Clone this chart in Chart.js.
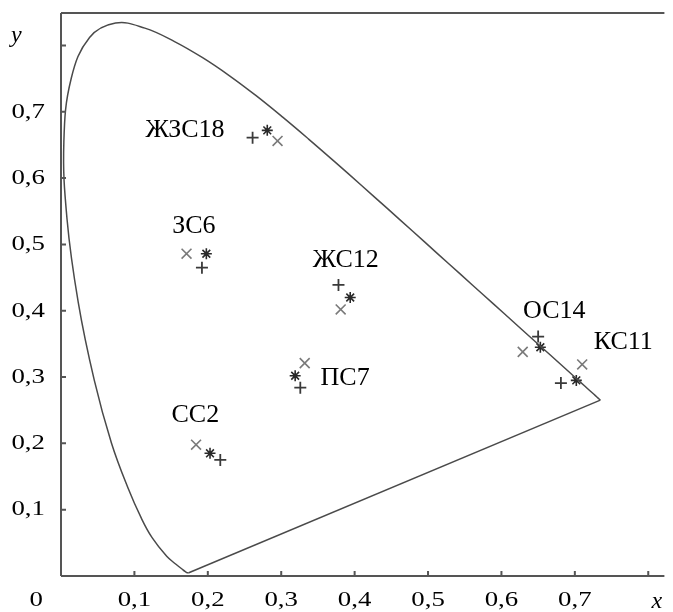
<!DOCTYPE html>
<html lang="ru">
<head>
<meta charset="UTF-8">
<title>Координаты цветности стёкол</title>
<script src="https://cdn.jsdelivr.net/npm/chart.js@4"></script>
<style>
    body { margin: 0; background: #fff; }
    .wrap { width: 673px; height: 612px; position: relative; }
</style>
</head>
<body>
<div class="wrap"><canvas id="cie"></canvas></div>
<script>
// спектральный локус, 380..700 нм
const locusX = [0.1741, 0.1738, 0.1733, 0.1726, 0.1714, 0.1689, 0.1644, 0.1566, 0.1440, 0.1241,
                0.1096, 0.0913, 0.0687, 0.0454, 0.0235, 0.0082, 0.0039, 0.0139, 0.0389, 0.0743,
                0.1142, 0.1547, 0.1929, 0.2296, 0.2658, 0.3016, 0.3373, 0.3731, 0.4087, 0.4441,
                0.4788, 0.5125, 0.5448, 0.5752, 0.6029, 0.6270, 0.6482, 0.6658, 0.6915, 0.7079,
                0.7190, 0.7260, 0.7300, 0.7334, 0.7347];
const locusY = [0.0050, 0.0049, 0.0048, 0.0048, 0.0051, 0.0069, 0.0109, 0.0177, 0.0297, 0.0578,
                0.0868, 0.1327, 0.2007, 0.2950, 0.4127, 0.5384, 0.6548, 0.7502, 0.8120, 0.8338,
                0.8262, 0.8059, 0.7816, 0.7543, 0.7243, 0.6923, 0.6589, 0.6245, 0.5896, 0.5547,
                0.5202, 0.4866, 0.4544, 0.4242, 0.3965, 0.3725, 0.3514, 0.3340, 0.3083, 0.2920,
                0.2809, 0.2740, 0.2700, 0.2666, 0.2653];

const samples = ['ЖЗС18', 'ЗС6', 'ЖС12', 'ПС7', 'СС2', 'ОС14', 'КС11'];
const plusX  = [0.261, 0.192, 0.378, 0.326, 0.217, 0.650, 0.681];
const plusY  = [0.661, 0.465, 0.439, 0.284, 0.175, 0.361, 0.291];
const crossX = [0.295, 0.171, 0.381, 0.332, 0.184, 0.629, 0.710];
const crossY = [0.656, 0.486, 0.402, 0.321, 0.198, 0.338, 0.319];
const starX  = [0.281, 0.198, 0.394, 0.319, 0.203, 0.653, 0.702];
const starY  = [0.672, 0.486, 0.420, 0.302, 0.185, 0.345, 0.295];
const labelX = [0.169, 0.181, 0.388, 0.387, 0.183, 0.672, 0.766];
const labelY = [0.673, 0.527, 0.476, 0.299, 0.243, 0.399, 0.352];

const xTicks = [0, 0.1, 0.2, 0.3, 0.4, 0.5, 0.6, 0.7, 0.8];
const xTickLabels = ['', '0,1', '0,2', '0,3', '0,4', '0,5', '0,6', '0,7', ''];
const yTicks = [0.1, 0.2, 0.3, 0.4, 0.5, 0.6, 0.7, 0.8];
const yTickLabels = ['0,1', '0,2', '0,3', '0,4', '0,5', '0,6', '0,7', ''];

const pts = (xs, ys) => xs.map((x, i) => ({ x, y: ys[i] }));
const last = locusX.length - 1;

const SERIF = '"Liberation Serif", "Times New Roman", serif';
const AXIS = '#555';

// подписи делений в оригинале растянуты по горизонтали
function wideText(ctx, text, x, y, sx) {
    ctx.save();
    ctx.translate(x, y);
    ctx.scale(sx, 1);
    ctx.fillText(text, 0, 0);
    ctx.restore();
}

// рамка, засечки внутрь, подписи
const frame = {
    id: 'frame',
    afterDraw(chart) {
        const { ctx, chartArea: a, scales: { x, y } } = chart;
        ctx.save();
        ctx.strokeStyle = AXIS;
        ctx.lineWidth = 2;
        ctx.beginPath();
        ctx.moveTo(a.left, a.top); ctx.lineTo(a.right, a.top);
        ctx.moveTo(a.left, a.top); ctx.lineTo(a.left, a.bottom);
        ctx.moveTo(a.left, a.bottom); ctx.lineTo(a.right, a.bottom);
        xTicks.forEach(v => {
            const px = x.getPixelForValue(v);
            ctx.moveTo(px, a.bottom); ctx.lineTo(px, a.bottom - 5);
        });
        yTicks.forEach(v => {
            const py = y.getPixelForValue(v);
            ctx.moveTo(a.left, py); ctx.lineTo(a.left + 5, py);
        });
        ctx.stroke();

        ctx.fillStyle = '#000';
        ctx.font = '22px ' + SERIF;
        ctx.textBaseline = 'middle';
        ctx.textAlign = 'center';
        xTicks.forEach((v, i) => wideText(ctx, xTickLabels[i], x.getPixelForValue(v), a.bottom + 24, 1.22));
        ctx.textAlign = 'right';
        yTicks.forEach((v, i) => wideText(ctx, yTickLabels[i], a.left - 16, y.getPixelForValue(v), 1.22));
        wideText(ctx, '0', a.left - 18, a.bottom + 24, 1.22);

        ctx.font = '26px ' + SERIF;
        ctx.textAlign = 'center';
        samples.forEach((s, i) => ctx.fillText(s, x.getPixelForValue(labelX[i]), y.getPixelForValue(labelY[i])));

        ctx.font = 'italic 24px ' + SERIF;
        ctx.textBaseline = 'alphabetic';
        ctx.textAlign = 'left';
        ctx.fillText('y', 11, 42);
        ctx.fillText('x', a.right - 13, a.bottom + 32);
        ctx.restore();
    }
};

new Chart(document.getElementById('cie'), {
    type: 'scatter',
    data: {
        datasets: [
            {
                type: 'line',
                data: pts(locusX, locusY),
                borderColor: '#4a4a4a',
                borderWidth: 1.5,
                pointRadius: 0,
                tension: 0.4,
                fill: false
            },
            {
                type: 'line',
                data: [{ x: locusX[last], y: locusY[last] }, { x: locusX[0], y: locusY[0] }],
                borderColor: '#4a4a4a',
                borderWidth: 1.5,
                pointRadius: 0,
                tension: 0,
                fill: false
            },
            {
                data: pts(crossX, crossY),
                pointStyle: 'crossRot',
                pointRadius: 7,
                borderColor: '#7a7a7a',
                borderWidth: 1.6
            },
            {
                data: pts(plusX, plusY),
                pointStyle: 'cross',
                pointRadius: 6,
                borderColor: '#3a3a3a',
                borderWidth: 1.8
            },
            {
                data: pts(starX, starY),
                pointStyle: 'star',
                pointRadius: 5.5,
                borderColor: '#2a2a2a',
                borderWidth: 1.6
            },
            {
                data: pts(starX, starY),
                pointStyle: 'circle',
                pointRadius: 2,
                backgroundColor: '#000',
                borderColor: '#000',
                borderWidth: 0
            }
        ]
    },
    options: {
        responsive: true,
        maintainAspectRatio: false,
        animation: false,
        layout: { padding: { left: 61, top: 13, right: 0, bottom: 36 } },
        scales: {
            x: { type: 'linear', min: 0, max: 0.822, display: false },
            y: { type: 'linear', min: 0, max: 0.849, display: false }
        },
        plugins: {
            legend: { display: false },
            tooltip: { enabled: false }
        }
    },
    plugins: [frame]
});
</script>
</body>
</html>
